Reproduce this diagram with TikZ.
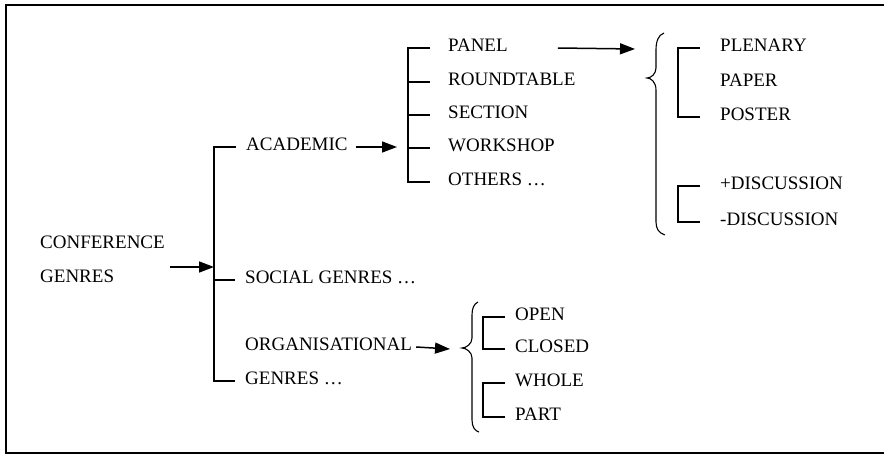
\documentclass[tikz,border=0pt]{standalone}
\usepackage{fontspec}
\setmainfont{Liberation Serif}
\usetikzlibrary{arrows.meta}

\begin{document}
\begin{tikzpicture}[
    x=1pt, y=-1pt,
    font=\fontsize{19}{22}\selectfont,
    genre/.style={anchor=west, inner sep=0pt, text height=1.5ex, text depth=0ex},
    bracket line/.style={line width=1.5pt},
    normal line/.style={line width=1.5pt, -{Triangle[length=15pt,width=11pt]}}
    ]
\useasboundingbox (0,0) rectangle (884,455);
\draw[line width=2.4pt] (890,5) -- (6,5) -- (6,453) -- (890,453);

% first level
\node[genre] (conf)  at (40,245) {CONFERENCE};
\node[genre] (confg) at (40,279) {GENRES};
\coordinate (c1) at (170,267);
\coordinate (b1) at (214,0);

\node[genre] (acad)   at (246,147) {ACADEMIC};
\node[genre] (social) at (245,280) {SOCIAL GENRES …};
\node[genre] (organ)  at (245,347) {ORGANISATIONAL};
\node[genre] (orggen) at (245,381) {GENRES …};

\path (c1) edge[normal line] (c1 -| b1);
\draw[bracket line] ([xshift=-10pt]acad.west) -- (acad.west -| b1) -- (orggen.west -| b1) -- ([xshift=-10pt]orggen.west);
\draw[bracket line] (social.west -| b1) -- ([xshift=-10pt]social.west);

% academic
\coordinate (b2) at (408,0);
\node[genre] (panel)    at (448,48)  {PANEL};
\node[genre] (round)    at (448,82)  {ROUNDTABLE};
\node[genre] (section)  at (448,115) {SECTION};
\node[genre] (workshop) at (448,148) {WORKSHOP};
\node[genre] (others)   at (448,182) {OTHERS …};

\coordinate (a1) at ([xshift=8pt]acad.east);
\path (a1) edge[normal line] ([xshift=-11pt]a1 -| b2);
\draw[bracket line] ([xshift=-18pt]panel.west) -- (panel.west -| b2) -- (others.west -| b2) -- ([xshift=-18pt]others.west);
\draw[bracket line] (round.west -| b2) -- ([xshift=-18pt]round.west);
\draw[bracket line] (section.west -| b2) -- ([xshift=-18pt]section.west);
\draw[bracket line] (workshop.west -| b2) -- ([xshift=-18pt]workshop.west);

% panel
\coordinate (p1) at ([xshift=50pt]panel.east);
\coordinate (p2) at (635,49);
\path (p1) edge[normal line] (p2);
\draw[line width=1.1pt] (664,33) .. controls (658,35) and (656,42) .. (656,50) -- (656,68)
    .. controls (656,74) and (651,78) .. (647,78) .. controls (651,78) and (656,82) .. (656,90)
    -- (656,222) .. controls (656,229) and (659,233) .. (665,235);

\coordinate (b3) at (678,0);
\node[genre] (plenary)   at (720,48)  {PLENARY};
\node[genre] (paper)     at (720,83)  {PAPER};
\node[genre] (poster)    at (720,117) {POSTER};
\node[genre] (plusdisc)  at (720,186) {+DISCUSSION};
\node[genre] (minusdisc) at (720,222) {-DISCUSSION};

\draw[bracket line] (plenary.west -| b3) -- (poster.west -| b3) -- ([xshift=-20pt]poster.west);
\draw[line width=2.8pt] ([xshift=-0.75pt]plenary.west -| b3) -- ([xshift=-20pt]plenary.west);
\draw[bracket line] ([xshift=-20pt]plusdisc.west) -- (plusdisc.west -| b3) -- (minusdisc.west -| b3) -- ([xshift=-20pt]minusdisc.west);

% organisational
\coordinate (o1) at ([xshift=4pt]organ.east);
\coordinate (o2) at (450,349);
\path (o1) edge[normal line] (o2);
\draw[line width=1.1pt] (478,302) .. controls (474,304) and (472,308) .. (472,315) -- (472,338)
    .. controls (472,344) and (466,348) .. (462,348) .. controls (466,348) and (472,352) .. (472,358)
    -- (472,420) .. controls (472,427) and (475,431) .. (479,432);

\coordinate (b4) at (483,0);
\node[genre] (open)   at (515,317) {OPEN};
\node[genre] (closed) at (515,349) {CLOSED};
\node[genre] (whole)  at (515,383) {WHOLE};
\node[genre] (part)   at (515,417) {PART};

\draw[bracket line] ([xshift=-10pt]open.west) -- (open.west -| b4) -- (closed.west -| b4) -- ([xshift=-10pt]closed.west);
\draw[bracket line] ([xshift=-10pt]whole.west) -- (whole.west -| b4) -- (part.west -| b4) -- ([xshift=-10pt]part.west);
\end{tikzpicture}
\end{document}
